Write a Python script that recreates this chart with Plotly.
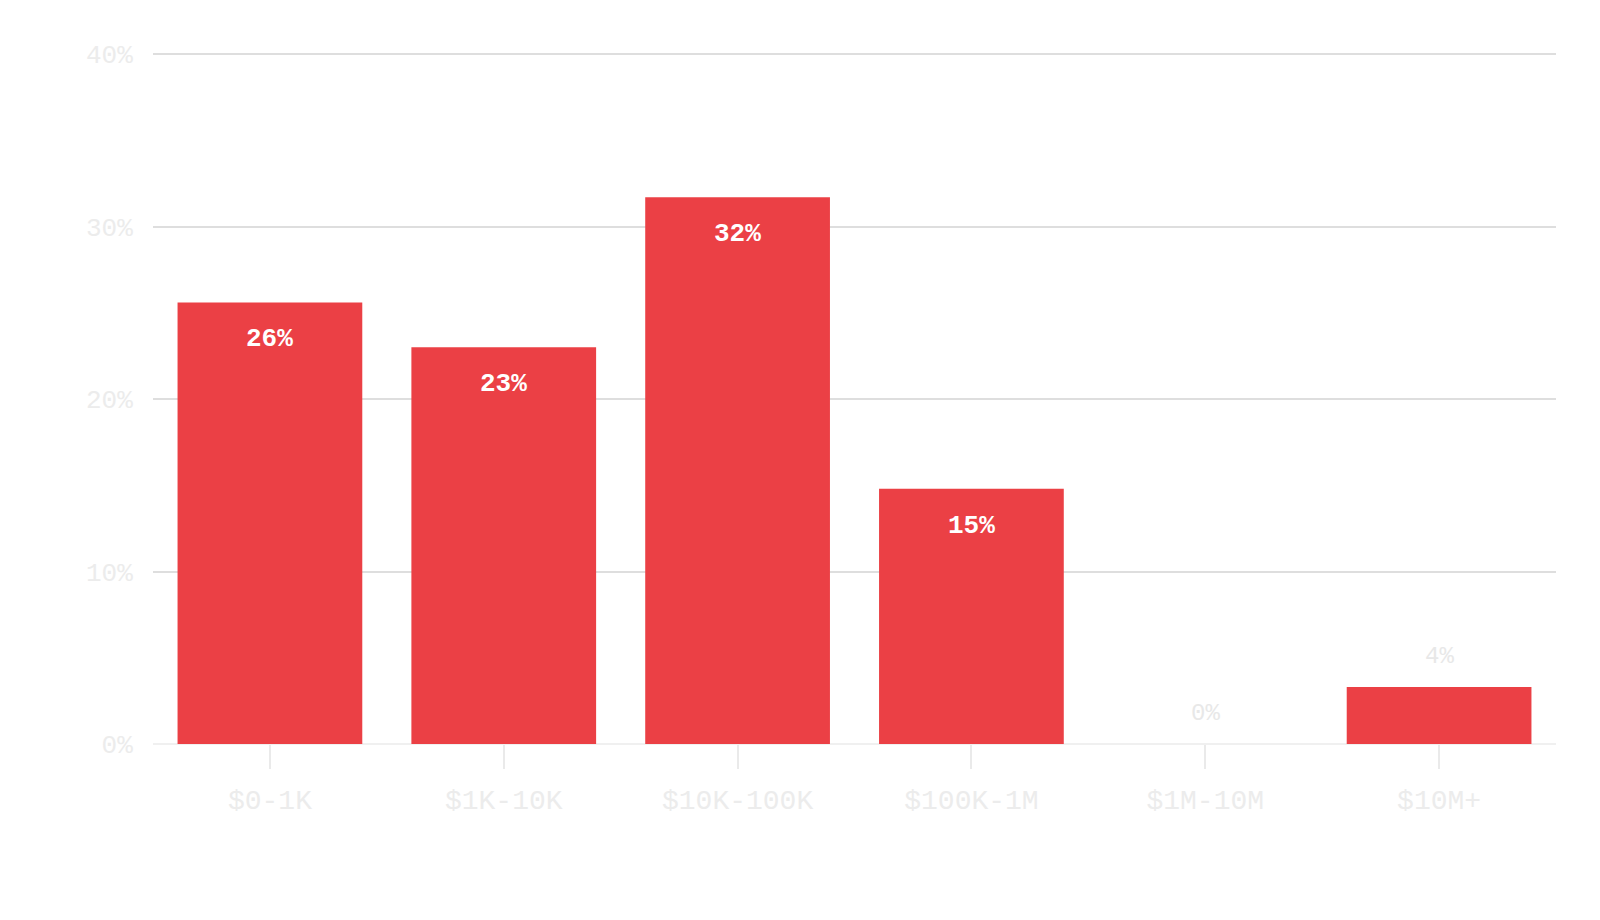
import plotly.graph_objects as go

# data
categories = ["$0-1K", "$1K-10K", "$10K-100K", "$100K-1M", "$1M-10M", "$10M+"]
shares = [25.6, 23.0, 31.7, 14.8, 0.0, 3.3]
labels = ["26%", "23%", "32%", "15%", "0%", "4%"]
inside = [True, True, True, True, False, False]
y_ticks = [0, 10, 20, 30, 40]

mono = "Liberation Mono, Courier New, monospace"
red = "#EB4045"

fig = go.Figure(go.Bar(x=categories, y=shares, marker=dict(color=red, line=dict(width=0)),
                       hoverinfo="x+y"))

# value labels: white inside the top of tall bars, grey above short ones
for cat, val, lab, ins in zip(categories, shares, labels, inside):
    fig.add_annotation(x=cat, y=val, text="<b>" + lab + "</b>" if ins else lab,
                       showarrow=False, yanchor="middle",
                       yshift=-37 if ins else 31,
                       font=dict(family=mono, size=26 if ins else 24,
                                 color="#ffffff" if ins else "#e8e8e8"))

fig.update_layout(
    width=1600, height=920,
    margin=dict(l=153, r=44, t=52, b=176),
    plot_bgcolor="white", paper_bgcolor="white",
    bargap=0.21, showlegend=False,
    font=dict(family=mono),
)
fig.update_yaxes(range=[0, 40.12], tickvals=y_ticks,
                 ticktext=[f"{t}%" for t in y_ticks],
                 showgrid=True, gridcolor="#dedede", gridwidth=2,
                 zeroline=True, zerolinecolor="#f0f0f0", zerolinewidth=2,
                 tickfont=dict(family=mono, size=26, color="#ececec"),
                 ticks="outside", ticklen=14, tickcolor="rgba(0,0,0,0)")
fig.update_xaxes(showgrid=False, ticks="outside", ticklen=24, tickwidth=2,
                 tickcolor="#eaeaea", showline=False, ticklabelstandoff=6,
                 tickfont=dict(family=mono, size=28, color="#ececec"))

fig.write_html("out.html", config={"displayModeBar": False},
               post_script="document.body.style.margin='0';"
                           "document.body.style.overflow='hidden';")
